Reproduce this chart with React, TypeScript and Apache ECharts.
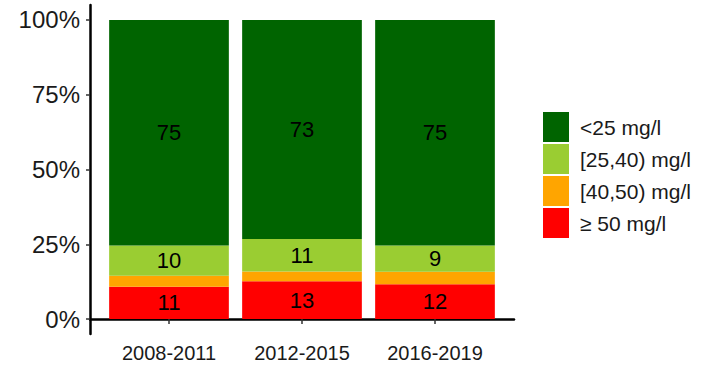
import React, { useEffect, useRef } from "react";
import * as echarts from "echarts";

const categories = ["2008-2011", "2012-2015", "2016-2019"];
const seriesNames = ["<25 mg/l", "[25,40) mg/l", "[40,50) mg/l", "≥ 50 mg/l"];
const below25 = [75.4, 73.2, 75.4];
const from25to40 = [10.1, 10.9, 8.8];
const from40to50 = [3.7, 3.3, 4.2];
const above50 = [10.8, 12.6, 11.6];
const yTicks = [0, 25, 50, 75, 100];
const colors = {
  below25: "#006400",
  from25to40: "#9ACD32",
  from40to50: "#FFA500",
  above50: "#FF0000",
};

const FONT = "'Liberation Sans', Arial, sans-serif";

export default function App() {
  const ref = useRef<HTMLDivElement>(null);
  useEffect(() => {
    if (!ref.current) return;
    const chart = echarts.init(ref.current, null, { renderer: "svg" });
    const mk = (name: string, arr: number[], color: string, showLabel: boolean) => ({
      name,
      type: "bar",
      stack: "total",
      xAxisIndex: 1,
      yAxisIndex: 1,
      barCategoryGap: "10%",
      data: arr,
      itemStyle: { color },
      label: {
        show: showLabel,
        position: "inside",
        color: "#000",
        fontSize: 22,
        fontFamily: FONT,
        formatter: (p: any) => String(Math.round(p.value)),
      },
      emphasis: { disabled: true },
    });
    chart.setOption({
      animation: false,
      backgroundColor: "#fff",
      grid: [
        { left: 90, right: 193, top: 5, bottom: 47, outerBoundsMode: "none" },
        { left: 102.5, right: 205.5, top: 5, bottom: 47, outerBoundsMode: "none" },
      ],
      xAxis: [
        {
          type: "value",
          gridIndex: 0,
          min: 0.4,
          max: 3.6,
          splitLine: { show: false },
          axisLine: { show: true, lineStyle: { color: "#000", width: 2.5 } },
          axisTick: { show: false },
          axisLabel: { show: false },
        },
        {
          type: "category",
          gridIndex: 1,
          data: categories,
          axisLine: { show: false },
          axisTick: { show: true, alignWithLabel: true, length: 5, lineStyle: { color: "#333", width: 1.5 } },
          axisLabel: {
            color: "#1a1a1a",
            fontSize: 20,
            fontFamily: FONT,
            margin: 9,
          },
        },
      ],
      yAxis: [
        {
          type: "value",
          gridIndex: 0,
          min: -5,
          max: 105,
          splitLine: { show: false },
          axisLine: { show: true, lineStyle: { color: "#000", width: 2.5 } },
          axisTick: { show: true, customValues: yTicks, length: 4, lineStyle: { color: "#333", width: 1.5 } },
          axisLabel: {
            customValues: yTicks,
            formatter: (v: number) => v + "%",
            color: "#1a1a1a",
            fontSize: 24,
            fontFamily: FONT,
            margin: 10,
          },
        },
        {
          type: "value",
          gridIndex: 1,
          min: -5,
          max: 105,
          show: false,
          splitLine: { show: false },
        },
      ],
      legend: {
        data: seriesNames,
        orient: "vertical",
        left: 543,
        top: 112,
        itemWidth: 26,
        itemHeight: 30,
        itemGap: 2,
        icon: "rect",
        padding: 0,
        textStyle: { fontSize: 21, fontFamily: FONT, color: "#1a1a1a", padding: [0, 0, 0, 6] },
        selectedMode: false,
      },
      series: [
        mk(seriesNames[3], above50, colors.above50, true),
        mk(seriesNames[2], from40to50, colors.from40to50, false),
        mk(seriesNames[1], from25to40, colors.from25to40, true),
        mk(seriesNames[0], below25, colors.below25, true),
      ],
    });
    return () => chart.dispose();
  }, []);
  return (
    <div
      ref={ref}
      style={{ position: "absolute", left: 0, top: 0, width: 707, height: 381 }}
    />
  );
}
